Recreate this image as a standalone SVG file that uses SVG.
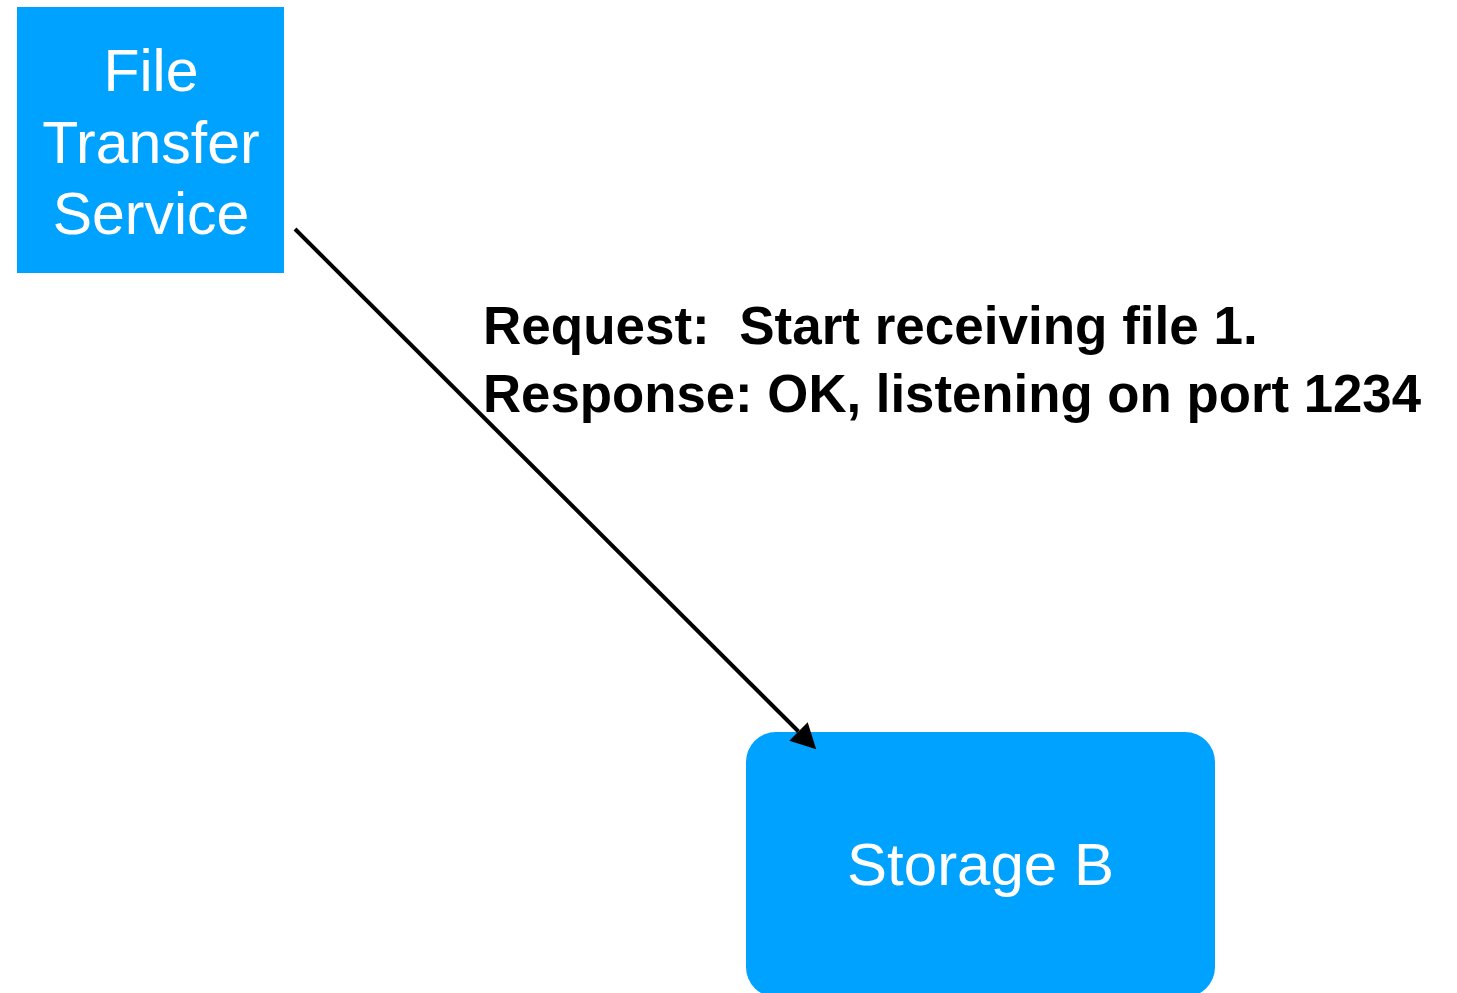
<svg xmlns="http://www.w3.org/2000/svg" width="1457" height="993" viewBox="0 0 1457 993">
  <style>
    .node { fill: #00A2FF; }
    .ntext { fill: #FFFFFF; font-family: "Liberation Sans", Arial, sans-serif; text-anchor: middle; }
    .label { fill: #000000; font-family: "Liberation Sans", Arial, sans-serif; font-weight: bold; font-size: 53px; white-space: pre; }
    .conn { stroke: #000000; stroke-width: 4; fill: none; }
  </style>
  <defs>
    <marker id="arrow" viewBox="0 0 25 26" refX="0" refY="13" markerWidth="25" markerHeight="26" markerUnits="userSpaceOnUse" orient="auto">
      <path d="M0,0 L25,13 L0,26 Z" fill="#000000"/>
    </marker>
  </defs>
  <rect width="1457" height="993" fill="#FFFFFF"/>

  <g id="node-file-transfer-service">
    <rect class="node" x="17" y="7" width="267" height="266"/>
    <text class="ntext" font-size="59" x="151" y="91">File</text>
    <text class="ntext" font-size="59" x="151" y="163">Transfer</text>
    <text class="ntext" font-size="59" x="151" y="234">Service</text>
  </g>

  <g id="node-storage-b">
    <rect class="node" x="746" y="732" width="469" height="265" rx="30" ry="30"/>
    <text class="ntext" font-size="60" x="980.5" y="885">Storage B</text>
  </g>

  <g id="connectors">
    <line class="conn" x1="295" y1="229" x2="798.5" y2="731.5" marker-end="url(#arrow)"/>
    <text class="label" x="483" y="344" xml:space="preserve">Request:  Start receiving file 1.</text>
    <text class="label" x="483" y="412" textLength="938" lengthAdjust="spacingAndGlyphs">Response: OK, listening on port 1234</text>
  </g>
</svg>
